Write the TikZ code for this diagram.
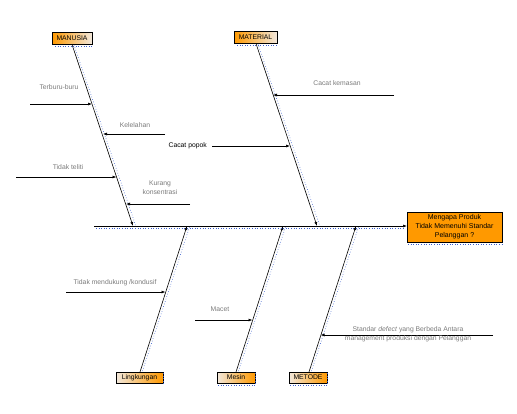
\documentclass[tikz,border=0pt]{standalone}
\usepackage{fontspec}
\setmainfont{Liberation Sans}
\usetikzlibrary{arrows.meta,calc}
\definecolor{org}{HTML}{FF9900}
\definecolor{bge}{HTML}{F2E8DC}
\definecolor{selb}{HTML}{3A5FCD}
\definecolor{txtg}{HTML}{7A7A7A}
\tikzset{
  arr/.style={-{Latex[length=4pt,width=3pt]}, line width=0.6pt},
  bone/.style={arr, line width=0.6pt},
  cat/.style={draw=black, line width=0.8pt, inner sep=0pt, font=\fontsize{6.8}{8}\selectfont, text=black},
  topcat/.style={cat, left color=org, right color=bge},
  botcat/.style={cat, left color=bge, right color=org},
  lbl/.style={font=\fontsize{6.8}{8}\selectfont, text=txtg, align=center, inner sep=0pt},
  sel/.style={draw=selb, dotted, line width=0.6pt},
}
\begin{document}
\begin{tikzpicture}[x=1pt,y=-1pt]
\useasboundingbox (0,0) rectangle (517,413);
% category boxes
\node[topcat, minimum width=40pt, minimum height=12pt] (manusia) at (72,38) {MANUSIA};
\node[topcat, minimum width=43pt, minimum height=12pt] (material) at (255.5,37) {MATERIAL};
\node[botcat, minimum width=47pt, minimum height=11pt] (lingk) at (139.5,377.5) {Lingkungan};
\node[botcat, minimum width=38pt, minimum height=11pt] (mesin) at (236,377.5) {Mesin};
\node[botcat, minimum width=38pt, minimum height=11pt] (metode) at (308,377.5) {METODE};
% head
\node[draw=black, line width=0.8pt, fill=org, minimum width=95pt, minimum height=30pt, align=center, inner sep=0pt, font=\fontsize{7}{9}\selectfont] (head) at (454.5,227) {Mengapa Produk\\Tidak Memenuhi Standar\\Pelanggan ?};
% spine
\coordinate (tail) at (94,226);
\coordinate (sp) at (407,226);
\draw[arr] (tail) -- (sp);
% bone endpoints on spine
\coordinate (b1) at (133,226);
\coordinate (b2) at (317,226);
\coordinate (b3) at (187,226);
\coordinate (b4) at (283,226);
\coordinate (b5) at (356,226);
\coordinate (m0) at (72,44.5);
\coordinate (t0) at (256,43.5);
\coordinate (l0) at (140,372);
\coordinate (s0) at (236,372);
\coordinate (e0) at (309,372);
\draw[bone] (m0) -- (b1);
\draw[bone] (t0) -- (b2);
\draw[bone] (l0) -- (b3);
\draw[bone] (s0) -- (b4);
\draw[bone] (e0) -- (b5);
% selection dotted marks
\draw[sel] (96,228.5) -- (405,228.5);
\draw[sel] (55,46.5) -- (93,46.5);
\draw[sel] (237,45.5) -- (277,45.5);
\draw[sel] (74,45) -- (135.5,225);
\draw[sel] (258,44) -- (319.5,225);
\draw[sel] (142.5,371) -- (189.5,227);
\draw[sel] (238.5,371) -- (285.5,227);
\draw[sel] (311.5,371) -- (358.5,227);
\draw[sel] (163.5,373) -- (163.5,385);
\draw[sel] (218,385.5) -- (255,385.5);
\draw[sel] (255.5,373) -- (255.5,385);
\draw[sel] (290,385.5) -- (327,385.5);
\draw[sel] (327.5,373) -- (327.5,385);
\draw[sel] (408,244) -- (502,244);
% causes: MANUSIA
\coordinate (c1s) at (30,104);  \coordinate (c1e) at (92,104);
\draw[arr] (c1s) -- (c1e);
\node[lbl] (t1) at (59,87) {Terburu-buru};
\coordinate (c2s) at (165,134);  \coordinate (c2e) at (103,134);
\draw[arr] (c2s) -- (c2e);
\node[lbl] (t2) at (135,125) {Kelelahan};
\coordinate (c3s) at (16,177);  \coordinate (c3e) at (116.5,177);
\draw[arr] (c3s) -- (c3e);
\node[lbl] (t3) at (68,167) {Tidak teliti};
\coordinate (c4s) at (190,204);  \coordinate (c4e) at (126,204);
\draw[arr] (c4s) -- (c4e);
\node[lbl, font=\fontsize{6.8}{9.5}\selectfont] (t4) at (160,187.5) {Kurang\\konsentrasi};
% MATERIAL
\coordinate (c5s) at (394,95);  \coordinate (c5e) at (273,95);
\draw[arr] (c5s) -- (c5e);
\node[lbl] (t5) at (337,83) {Cacat kemasan};
\node[lbl, text=black, anchor=east] (t6) at (207,146) {Cacat popok};
\coordinate (c6e) at (290,146);
\draw[arr] (t6.east) ++(5,0) coordinate (c6s) (c6s) -- (c6e);
% bottom
\coordinate (c7s) at (66,292);  \coordinate (c7e) at (165.5,292);
\draw[arr] (c7s) -- (c7e);
\node[lbl] (t7) at (115,283) {Tidak mendukung /kondusif};
\coordinate (c8s) at (195,320);  \coordinate (c8e) at (252.5,320);
\draw[arr] (c8s) -- (c8e);
\node[lbl] (t8) at (220,309) {Macet};
\coordinate (c9s) at (493,335);  \coordinate (c9e) at (320.5,335);
\draw[arr] (c9s) -- (c9e);
\node[lbl, font=\fontsize{6.8}{9}\selectfont] (t9) at (408,334.5) {Standar \textit{defect} yang Berbeda Antara\\management produksi dengan Pelanggan};
\end{tikzpicture}
\end{document}
